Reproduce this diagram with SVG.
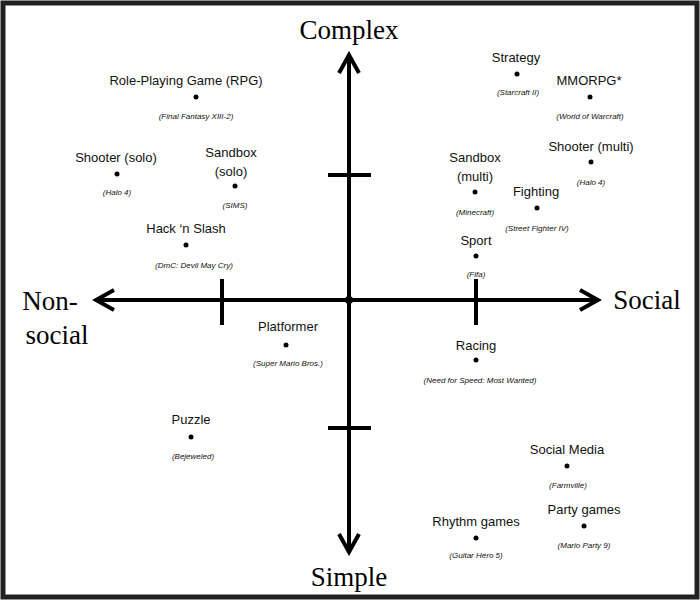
<svg xmlns="http://www.w3.org/2000/svg" width="700" height="600" viewBox="0 0 700 600">
<defs>
<marker id="ah" viewBox="0 0 12 12" refX="10" refY="6" markerWidth="6" markerHeight="6" orient="auto-start-reverse"><path d="M1,1 L10,6 L1,11" fill="none" stroke="#000" stroke-width="2"/></marker>
<style>
.ax{stroke:#000;stroke-width:4;fill:none}
.t{font-family:"Liberation Sans",Arial,sans-serif;font-size:13px;text-anchor:middle;fill:#111}
.s{font-family:"Liberation Sans",Arial,sans-serif;font-size:8px;font-style:italic;text-anchor:middle;fill:#111}
.big{font-family:"Liberation Serif","Times New Roman",serif;font-size:27px;text-anchor:middle;fill:#000}
.d{fill:#000}
</style>
</defs>
<rect x="0" y="0" width="700" height="600" fill="#fff"/>
<rect x="3" y="3" width="694" height="594" fill="none" stroke="#222" stroke-width="5"/>
<g id="connectors">
<line class="ax" x1="349" y1="552" x2="349" y2="55" marker-end="url(#ah)" marker-start="url(#ah)"/>
<line class="ax" x1="96" y1="300" x2="598" y2="300" marker-end="url(#ah)" marker-start="url(#ah)"/>
<line class="ax" x1="328" y1="175" x2="371" y2="175"/>
<line class="ax" x1="328" y1="428" x2="371" y2="428"/>
<line class="ax" x1="222" y1="279" x2="222" y2="325"/>
<line class="ax" x1="476" y1="279" x2="476" y2="325"/>
<circle class="d" cx="349" cy="300" r="4"/>
</g>
<g id="axis-labels">
<text class="big" x="349" y="39">Complex</text>
<text class="big" x="349" y="586">Simple</text>
<text class="big" x="50" y="310">Non-</text>
<text class="big" x="57" y="344">social</text>
<text class="big" x="647" y="309">Social</text>
</g>
<g id="rpg"><text class="t" x="186" y="85">Role-Playing Game (RPG)</text><circle class="d" cx="196" cy="97" r="2.5"/><text class="s" x="196" y="119">(Final Fantasy XIII-2)</text></g>
<g id="shooter-solo"><text class="t" x="116" y="162">Shooter (solo)</text><circle class="d" cx="117" cy="174" r="2.5"/><text class="s" x="117" y="195">(Halo 4)</text></g>
<g id="sandbox-solo"><text class="t" x="231" y="157">Sandbox</text><text class="t" x="231" y="176">(solo)</text><circle class="d" cx="235" cy="186" r="2.5"/><text class="s" x="235" y="208">(SIMS)</text></g>
<g id="hack"><text class="t" x="186" y="233">Hack ‘n Slash</text><circle class="d" cx="186" cy="245" r="2.5"/><text class="s" x="194" y="268">(DmC: Devil May Cry)</text></g>
<g id="platformer"><text class="t" x="288" y="331">Platformer</text><circle class="d" cx="286" cy="345" r="2.5"/><text class="s" x="288" y="366">(Super Mario Bros.)</text></g>
<g id="puzzle"><text class="t" x="191" y="424">Puzzle</text><circle class="d" cx="191" cy="437" r="2.5"/><text class="s" x="193" y="459">(Bejeweled)</text></g>
<g id="strategy"><text class="t" x="516" y="62">Strategy</text><circle class="d" cx="517" cy="74" r="2.5"/><text class="s" x="518" y="95">(Starcraft II)</text></g>
<g id="mmorpg"><text class="t" x="589" y="85">MMORPG*</text><circle class="d" cx="590" cy="97" r="2.5"/><text class="s" x="590" y="119">(World of Warcraft)</text></g>
<g id="shooter-multi"><text class="t" x="591" y="151">Shooter (multi)</text><circle class="d" cx="591" cy="162" r="2.5"/><text class="s" x="591" y="185">(Halo 4)</text></g>
<g id="sandbox-multi"><text class="t" x="475" y="162">Sandbox</text><text class="t" x="475" y="181">(multi)</text><circle class="d" cx="475" cy="192" r="2.5"/><text class="s" x="475" y="215">(Minecraft)</text></g>
<g id="fighting"><text class="t" x="536" y="196">Fighting</text><circle class="d" cx="537" cy="208" r="2.5"/><text class="s" x="537" y="231">(Street Fighter IV)</text></g>
<g id="sport"><text class="t" x="476" y="245">Sport</text><circle class="d" cx="476" cy="256" r="2.5"/><text class="s" x="476" y="277">(Fifa)</text></g>
<g id="racing"><text class="t" x="476" y="350">Racing</text><circle class="d" cx="476" cy="360" r="2.5"/><text class="s" x="480" y="383">(Need for Speed: Most Wanted)</text></g>
<g id="social-media"><text class="t" x="567" y="454">Social Media</text><circle class="d" cx="567" cy="466" r="2.5"/><text class="s" x="568" y="488">(Farmville)</text></g>
<g id="party"><text class="t" x="584" y="514">Party games</text><circle class="d" cx="584" cy="526" r="2.5"/><text class="s" x="584" y="548">(Mario Party 9)</text></g>
<g id="rhythm"><text class="t" x="476" y="526">Rhythm games</text><circle class="d" cx="476" cy="538" r="2.5"/><text class="s" x="476" y="558">(Guitar Hero 5)</text></g>
</svg>
